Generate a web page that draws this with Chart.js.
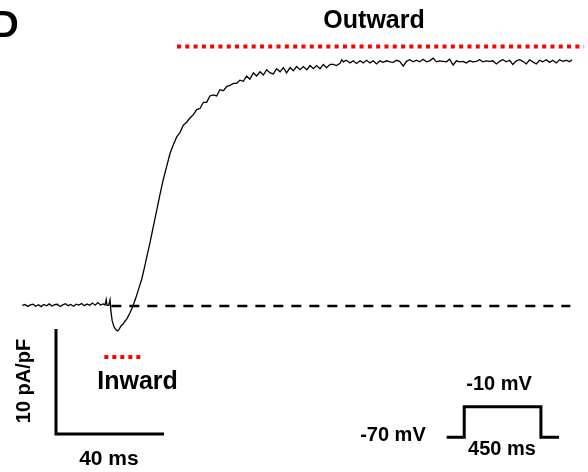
<!DOCTYPE html>
<html>
<head>
<meta charset="utf-8">
<script src="https://cdn.jsdelivr.net/npm/chart.js@4"></script>
<style>
  html, body { margin: 0; padding: 0; background: #fff; }
  #wrap { width: 588px; height: 472px; }
</style>
</head>
<body>
<div id="wrap"><canvas id="chart" width="588" height="472"></canvas></div>
<script>
// current trace, time in ms (step onset at 0), current in pA/pF
const traceTime = [
  -32.5, -31.5, -30.5, -29.5, -28.5, -27.5, -26.5, -25.5, -24.5, -23.5,
  -22.5, -21.5, -20.5, -19.5, -18.5, -17.5, -16.5, -15.5, -14.5, -13.5,
  -12.5, -11.5, -10.5, -9.5, -8.5, -7.5, -6.5, -5.5, -4.5, -3.5, -2.5,
  -1.8, -1.4, -1.1, -0.5, 0, 0.3, 0.8, 1.5, 2.3, 2.8, 3.4, 4.2, 4.8, 5.4,
  6.3, 7.5, 8.5, 9.6, 10.7, 11.7, 12.8, 13.8, 14.8, 15.9, 17.3, 18.5, 19.7,
  21.0, 22.2, 23.4, 24.7, 25.9, 27.1, 28.4, 29.6, 30.8, 32.1, 33.3, 34.6,
  35.8, 37.0, 38.3, 39.5, 40.7, 42.0, 43.2, 44.4, 45.7, 46.9, 48.1, 49.4,
  50.6, 51.8, 53.1, 54.3, 55.6, 56.8, 58.0, 59.3, 60.5, 61.7, 63.0, 64.2,
  65.4, 66.7, 67.9, 69.1, 70.4, 71.6, 72.9, 74.1, 75.3, 76.5, 77.8, 79.0,
  80.2, 81.5, 82.7, 83.9, 85.2, 85.8, 86.4, 87.6, 88.9, 90.1, 91.3, 92.6,
  93.8, 95.0, 96.3, 97.5, 98.7, 100.0, 101.2, 102.4, 103.7, 104.9, 106.1,
  107.3, 108.6, 109.8, 111.0, 112.3, 113.5, 114.7, 116.0, 117.2, 118.4,
  119.7, 120.9, 122.1, 123.4, 124.6, 125.8, 127.1, 128.3, 129.5, 130.7,
  132.0, 133.2, 134.4, 135.7, 136.9, 138.1, 139.4, 140.6, 141.8, 143.1,
  144.3, 145.5, 146.8, 148.0, 149.2, 150.5, 151.7, 152.9, 154.2, 155.4,
  156.6, 157.9, 159.1, 160.3, 161.6, 162.8, 164.0, 165.3, 166.5, 167.7,
  169.0, 170.2, 171.1
];
const traceCurrent = [
  0.05, 0.14, -0.04, 0.1, 0.17, -0.02, 0.12, -0.06, 0.14, 0.02,
  0.2, 0.0, 0.12, 0.16, -0.05, 0.1, 0.22, 0.03, 0.14, -0.02,
  0.17, 0.08, 0.24, 0.03, 0.18, 0.06, 0.28, 0.08, 0.32, 0.1, 0.2,
  0.1, 0.6, 0.05, 0.05, 0.6, -0.4, -1.4, -2.0, -2.3, -2.38, -2.2, -1.85, -1.75, -1.5,
  -1.2, -0.6, 0.0, 0.8, 1.7, 2.5, 3.7, 4.9, 6.0, 7.4, 9.1, 10.6, 12.0,
  13.3, 14.5, 15.3, 16.1, 16.5, 17.2, 17.5, 17.9, 18.2, 18.7, 18.8, 19.4,
  19.4, 20.0, 20.1, 20.0, 20.6, 20.5, 20.9, 21.0, 21.2, 21.2, 21.5, 21.4,
  21.9, 21.6, 22.2, 21.9, 22.3, 22.0, 22.5, 22.2, 22.1, 22.6, 22.3, 22.7,
  22.2, 22.7, 22.4, 22.8, 22.5, 22.8, 22.5, 22.9, 22.6, 22.9, 22.6, 23.0,
  22.7, 23.0, 23.0, 22.9, 23.1, 23.45, 23.25, 23.4, 23.15, 23.35, 23.1, 23.35,
  23.15, 23.4, 23.15, 23.35, 23.05, 23.35, 23.2, 23.35, 23.25, 23.2, 23.4,
  23.3, 22.85, 23.3, 23.45, 23.25, 23.4, 23.25, 23.5, 23.25, 23.35,
  23.6, 23.25, 23.35, 23.3, 23.25, 23.5, 22.95, 23.35, 23.25, 23.3,
  23.15, 23.35, 23.25, 23.3, 23.45, 23.25, 23.35, 23.3, 23.35, 23.05,
  23.3, 23.45, 23.25, 23.4, 23.0, 23.35, 23.45, 23.3, 23.05, 23.45,
  23.25, 23.05, 23.4, 23.25, 23.45, 23.2, 23.4, 23.15, 23.45, 23.3,
  23.4, 23.25, 23.45
];

// zero-current reference line
const zeroLineTime = [0.5, 170.5];
const zeroLineCurrent = [0, 0];

// peak markers (red dotted)
const outwardTime = [24.8, 175.6];
const outwardLevel = [24.7, 24.7];
const inwardTime = [-2.1, 12.1];
const inwardLevel = [-4.86, -4.86];

// scale bar: 40 ms by 10 pA/pF
const scaleBarTime = [-20, -20, 20];
const scaleBarCurrent = [-2.2, -12.2, -12.2];

// voltage protocol sketch (-70 mV -> -10 mV -> -70 mV)
const protocolTime = [124.7, 131.2, 131.2, 159.6, 159.6, 166.3];
const protocolLevel = [-12.5, -12.5, -9.6, -9.6, -12.5, -12.5];

const labels = [
  { text: 'Outward', x: 97.8, y: 27.14, size: 25 },
  { text: 'Inward', x: 10.2, y: -7.29, size: 25 },
  { text: '10 pA/pF', x: -31.5, y: -7.14, size: 20, rotate: true },
  { text: '40 ms', x: -0.4, y: -14.57, size: 21 },
  { text: '-10 mV', x: 144.1, y: -7.52, size: 20 },
  { text: '-70 mV', x: 104.8, y: -12.29, size: 20 },
  { text: '450 ms', x: 145.2, y: -13.71, size: 20 }
];

const pts = (xs, ys) => xs.map((x, i) => ({ x: x, y: ys[i] }));

const textPlugin = {
  id: 'textLabels',
  afterDatasetsDraw(chart) {
    const ctx = chart.ctx;
    const sx = chart.scales.x, sy = chart.scales.y;
    ctx.save();
    ctx.fillStyle = '#000';
    labels.forEach(l => {
      const px = sx.getPixelForValue(l.x);
      const py = sy.getPixelForValue(l.y);
      ctx.font = 'bold ' + l.size + 'px "Liberation Sans", Arial, sans-serif';
      ctx.textAlign = 'center';
      ctx.textBaseline = 'middle';
      if (l.rotate) {
        ctx.save();
        ctx.translate(px, py);
        ctx.rotate(-Math.PI / 2);
        ctx.fillText(l.text, 0, 0);
        ctx.restore();
      } else {
        ctx.fillText(l.text, px, py);
      }
    });
    // panel letter, cut by the left edge
    ctx.font = 'bold 37px "Liberation Sans", Arial, sans-serif';
    ctx.textAlign = 'left';
    ctx.textBaseline = 'alphabetic';
    ctx.fillText('D', sx.getPixelForValue(-43.7), sy.getPixelForValue(25.65));
    ctx.restore();
  }
};

new Chart(document.getElementById('chart'), {
  type: 'line',
  data: {
    datasets: [
      {
        label: 'Current',
        data: pts(traceTime, traceCurrent),
        borderColor: '#000',
        borderWidth: 1.3,
        pointRadius: 0,
        tension: 0
      },
      {
        label: 'Zero',
        data: pts(zeroLineTime, zeroLineCurrent),
        borderColor: '#000',
        borderWidth: 2.5,
        borderDash: [10, 8],
        pointRadius: 0
      },
      {
        label: 'Outward peak',
        data: pts(outwardTime, outwardLevel),
        borderColor: '#ff0000',
        borderWidth: 4,
        borderDash: [4, 4.3],
        pointRadius: 0
      },
      {
        label: 'Inward peak',
        data: pts(inwardTime, inwardLevel),
        borderColor: '#ff0000',
        borderWidth: 4,
        borderDash: [4, 4],
        pointRadius: 0
      },
      {
        label: 'Scale bar',
        data: pts(scaleBarTime, scaleBarCurrent),
        borderColor: '#000',
        borderWidth: 3,
        pointRadius: 0
      },
      {
        label: 'Protocol',
        data: pts(protocolTime, protocolLevel),
        borderColor: '#000',
        borderWidth: 3,
        pointRadius: 0
      }
    ]
  },
  options: {
    responsive: false,
    animation: false,
    layout: { padding: 0 },
    plugins: {
      legend: { display: false },
      tooltip: { enabled: false }
    },
    scales: {
      x: { type: 'linear', display: false, min: -40.74, max: 177.04 },
      y: { type: 'linear', display: false, min: -15.81, max: 29.14 }
    }
  },
  plugins: [textPlugin]
});
</script>
</body>
</html>
